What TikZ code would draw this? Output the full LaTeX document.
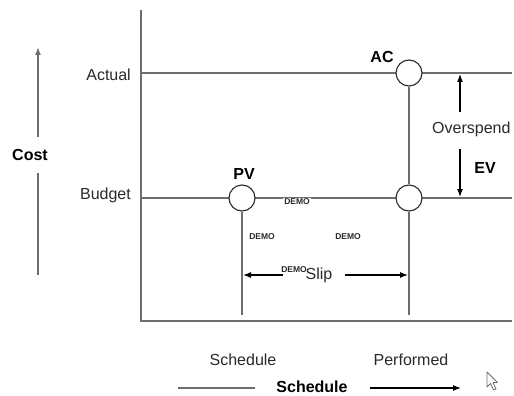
\documentclass[tikz,border=0pt]{standalone}
\usepackage{fontspec}
\setmainfont{Liberation Sans}
\usetikzlibrary{arrows.meta}
\definecolor{ln}{HTML}{6E6E6E}
\definecolor{tx}{HTML}{2A2A2A}
\tikzset{
  axis/.style={draw=ln, line width=1.6pt},
  grid/.style={draw=ln, line width=1.5pt},
  pt/.style={circle, draw=tx, line width=1.1pt, fill=white, minimum size=26pt, inner sep=0pt},
  lbl/.style={text=tx, font=\fontsize{16}{18}\selectfont, inner sep=0pt},
  blbl/.style={text=black, font=\fontsize{16}{18}\selectfont\bfseries, inner sep=0pt},
  demo/.style={text=tx, font=\fontsize{8.5}{10}\selectfont\bfseries, inner sep=0pt},
  arr/.style={draw=black, line width=1.1pt, -{Latex[length=8pt,width=6pt]}},
  garr/.style={draw=ln, line width=1.5pt, -{Latex[length=8pt,width=6pt]}}
}
\begin{document}
\begin{tikzpicture}[x=1pt,y=-1pt]
\useasboundingbox[fill=white] (0,0) rectangle (514,396);
% axes
\coordinate (ytop) at (141,10);
\coordinate (origin) at (141,321);
\coordinate (xend) at (512,321);
\draw[axis] (ytop) -- (origin) -- (xend);
% level lines
\coordinate (actL) at (141,73);
\coordinate (actR) at (512,73);
\coordinate (budL) at (141,198);
\coordinate (budR) at (512,198);
\draw[grid] (actL) -- (actR);
\draw[grid] (budL) -- (budR);
% points and vertical lines
\coordinate (pvB) at (242,315);
\coordinate (acB) at (409,315);
\node[pt] (pv) at (242,198) {};
\node[pt] (ev) at (409,198) {};
\node[pt] (ac) at (409,73) {};
\draw[grid] (ac) -- (ev);
\draw[grid] (ev) -- (acB);
\draw[grid] (pv) -- (pvB);
% labels
\node[lbl, anchor=east] (actual) at (131,75) {Actual};
\node[lbl, anchor=east] (budget) at (131,195) {Budget};
\node[blbl] (pvl) at (244,174) {PV};
\node[blbl] (acl) at (382,57) {AC};
\node[lbl, anchor=west] (over) at (432,129) {Overspend};
\node[blbl] (evl) at (485,168) {EV};
% overspend arrows
\coordinate (upS) at (460,112);
\coordinate (upE) at (460,74);
\coordinate (dnS) at (460,149);
\coordinate (dnE) at (460,197);
\draw[arr] (upS) -- (upE);
\draw[arr] (dnS) -- (dnE);
% demo marks
\node[demo, fill=white, inner sep=1pt] (d1) at (297,202) {DEMO};
\node[demo] (d2) at (262,237) {DEMO};
\node[demo] (d3) at (348,237) {DEMO};
\node[demo] (d4) at (294,270) {DEMO};
\node[lbl] (slip) at (319,275) {Slip};
% slip arrows
\coordinate (slL) at (243,275);
\coordinate (slLs) at (283,275);
\coordinate (slR) at (408,275);
\coordinate (slRs) at (345,275);
\draw[arr] (slLs) -- (slL);
\draw[arr] (slRs) -- (slR);
% cost axis label
\node[blbl] (cost) at (30,155) {Cost};
\coordinate (c1) at (38,137);
\coordinate (c2) at (38,47);
\coordinate (c3) at (38,173);
\coordinate (c4) at (38,275);
\draw[garr] (c1) -- (c2);
\draw[draw=ln, line width=1.5pt] (c3) -- (c4);
% bottom labels
\node[lbl] (sched) at (243,360) {Schedule};
\node[lbl] (perf) at (411,360) {Performed};
\node[blbl] (schedb) at (312,387) {Schedule};
\coordinate (b1) at (178,388);
\coordinate (b2) at (255,388);
\coordinate (b3) at (370,388);
\coordinate (b4) at (461,388);
\draw[draw=ln, line width=1.3pt] (b1) -- (b2);
\draw[arr] (b3) -- (b4);
% cursor
\draw[draw=ln, fill=white, line width=0.8pt, line join=round] (487,372) -- (487,387) -- (490.5,383.5) -- (493.5,390) -- (496,389) -- (493,382.5) -- (497.5,382.5) -- cycle;
\end{tikzpicture}
\end{document}
